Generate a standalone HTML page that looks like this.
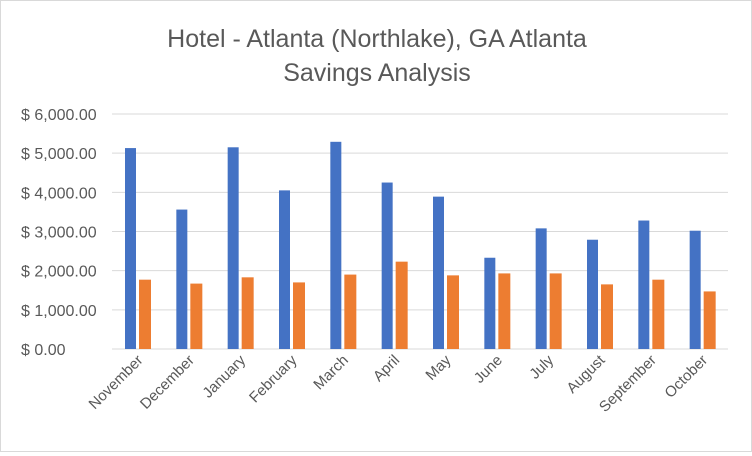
<!DOCTYPE html>
<html><head><meta charset="utf-8"><style>
body{margin:0;background:#fff;font-family:"Liberation Sans",sans-serif}
#wrap{position:relative;width:752px;height:452px;box-sizing:border-box;border:1px solid #d9d9d9;background:#fff}
</style></head><body>
<div id="wrap">
<svg id="chart" width="750" height="450"></svg>
</div>
<script>
const categories=["November","December","January","February","March","April","May","June","July","August","September","October"];
const seriesA=[5130,3560,5150,4050,5290,4250,3890,2330,3080,2790,3280,3020];
const seriesB=[1770,1670,1830,1700,1900,2230,1880,1930,1930,1650,1770,1470];
const yTicks=[0,1000,2000,3000,4000,5000,6000];
const yTickLabels=["$ 0.00","$ 1,000.00","$ 2,000.00","$ 3,000.00","$ 4,000.00","$ 5,000.00","$ 6,000.00"];
const NS="http://www.w3.org/2000/svg";
const svg=document.getElementById('chart');
const left=111,right=727,y0=348,yTop=113,yMax=6000;
const bw=(right-left)/categories.length;
function y(v){return y0-(v/yMax)*(y0-yTop);}
function mk(t,a){const e=document.createElementNS(NS,t);for(const k in a)e.setAttribute(k,a[k]);svg.appendChild(e);return e;}
let t=mk('text',{x:376,y:46,'text-anchor':'middle','font-size':25,fill:'#595959'});t.textContent="Hotel - Atlanta (Northlake), GA Atlanta";


t=mk('text',{x:376,y:80,'text-anchor':'middle','font-size':25,fill:'#595959'});t.textContent="Savings Analysis";


yTicks.forEach((v,i)=>{
 const l=mk('line',{x1:left,x2:right,y1:y(v),y2:y(v),stroke:'#d9d9d9','stroke-width':1});
 
 
 const tx=mk('text',{x:20,y:y(v)+6,'font-size':16,fill:'#595959'});tx.textContent=yTickLabels[i];
 
 
});
categories.forEach((c,i)=>{
 const x=left+i*bw;
 const a=mk('rect',{x:x+13,y:y(seriesA[i]),width:11,height:y0-y(seriesA[i]),fill:'#4472c4'});
 
 
 const b=mk('rect',{x:x+27,y:y(seriesB[i]),width:12,height:y0-y(seriesB[i]),fill:'#ed7d31'});
 
 
 const cx=x+bw/2+6,cy=y0+12;
 const lb=mk('text',{x:cx,y:cy,'text-anchor':'end','font-size':15,fill:'#595959',transform:`rotate(-45 ${cx} ${cy})`});
 lb.textContent=c;
 
 
});
</script>
</body></html>
